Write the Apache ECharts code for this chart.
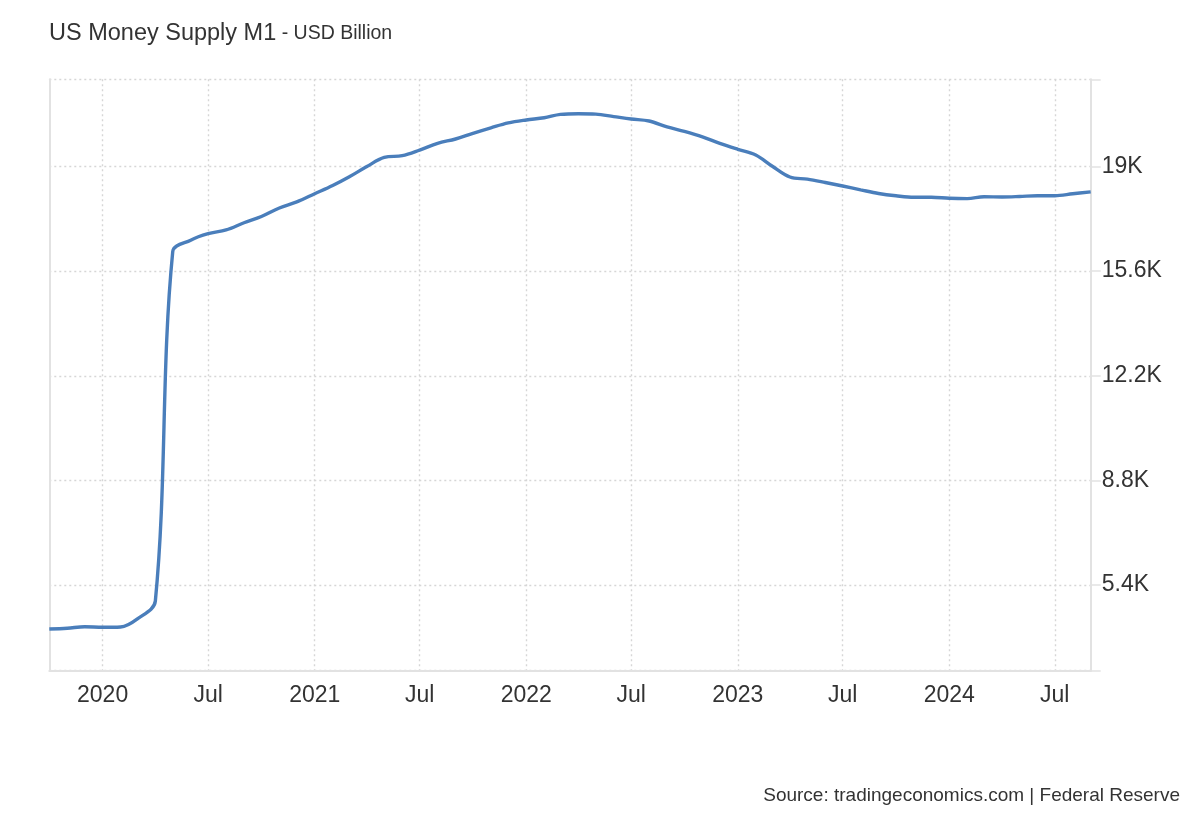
<!DOCTYPE html>
<html>
<head>
<meta charset="utf-8">
<script src="https://cdn.jsdelivr.net/npm/echarts@6/dist/echarts.min.js"></script>
<style>
html,body{margin:0;padding:0;background:#fff;}
#chart{width:1200px;height:820px;}
</style>
</head>
<body>
<div id="chart"></div>
<script>
// Monthly dates (first of month) and M1 values in USD Billion
const months = [
  '2019-10','2019-11','2019-12',
  '2020-01','2020-02','2020-03','2020-04','2020-05','2020-06','2020-07','2020-08','2020-09','2020-10','2020-11','2020-12',
  '2021-01','2021-02','2021-03','2021-04','2021-05','2021-06','2021-07','2021-08','2021-09','2021-10','2021-11','2021-12',
  '2022-01','2022-02','2022-03','2022-04','2022-05','2022-06','2022-07','2022-08','2022-09','2022-10','2022-11','2022-12',
  '2023-01','2023-02','2023-03','2023-04','2023-05','2023-06','2023-07','2023-08','2023-09','2023-10','2023-11','2023-12',
  '2024-01','2024-02','2024-03','2024-04','2024-05','2024-06','2024-07','2024-08','2024-09'
];
const m1Values = [
  3970, 3993, 4045,
  4025, 4035, 4298, 4880, 16232, 16606, 16817, 16938, 17172, 17376, 17653, 17851,
  18117, 18384, 18660, 19001, 19294, 19352, 19534, 19755, 19895, 20080, 20259, 20418,
  20513, 20584, 20695, 20717, 20704, 20623, 20545, 20480, 20288, 20142, 19966, 19755,
  19560, 19375, 19018, 18660, 18589, 18481, 18368, 18244, 18124, 18049, 18000, 18000,
  17968, 17958, 18017, 18010, 18026, 18052, 18052, 18114, 18176
];
const xTickDates = ['2020-01','2020-07','2021-01','2021-07','2022-01','2022-07','2023-01','2023-07','2024-01','2024-07'];
const yTickValues = [5400, 8800, 12200, 15600, 19000];
const yMin = 2615;
const yMax = 21835;

function ts(ym){ const p = ym.split('-'); return Date.UTC(+p[0], +p[1]-1, 1); }

const seriesData = months.map((m,i)=>[ts(m), m1Values[i]]);
const xTicks = xTickDates.map(ts);

const chart = echarts.init(document.getElementById('chart'), null, {renderer:'canvas'});
const font = '"Liberation Sans", Arial, sans-serif';
chart.setOption({
  animation:false,
  backgroundColor:'#fff',
  textStyle:{fontFamily:font},
  title:[
    {
      left:49, top:18, padding:0,
      text:'{a|US Money Supply M1}{b| - USD Billion}',
      textStyle:{
        fontWeight:'normal',
        rich:{
          a:{fontSize:23.5, color:'#333', fontFamily:font, fontWeight:'normal', lineHeight:32},
          b:{fontSize:19.5, color:'#333', fontFamily:font, fontWeight:'normal', lineHeight:32}
        }
      }
    },
    {
      right:20, top:784, padding:0,
      text:'Source: tradingeconomics.com | Federal Reserve',
      textStyle:{fontSize:19, fontWeight:'normal', color:'#333', fontFamily:font, lineHeight:24}
    }
  ],
  grid:{left:49.3, right:109.3, top:79.3, bottom:149.3, containLabel:false},
  xAxis:{
    type:'value',
    min:ts(months[0]),
    max:ts(months[months.length-1]),
    axisLine:{show:true, lineStyle:{color:'#e2e2e2', width:2}},
    axisTick:{show:false, customValues:xTicks},
    axisLabel:{
      customValues:xTicks,
      fontSize:23, color:'#333', margin:13, fontFamily:font,
      formatter:function(v){ const d=new Date(v); return d.getUTCMonth()===0 ? String(d.getUTCFullYear()) : 'Jul'; }
    },
    splitLine:{show:true, lineStyle:{color:'#d6d6d6', type:[2,3], width:1.4}}
  },
  yAxis:[
    {
      type:'value', position:'right',
      min:yMin, max:yMax,
      axisLine:{show:true, lineStyle:{color:'#e2e2e2', width:2}},
      axisTick:{show:true, length:10, customValues:[yMin].concat(yTickValues, [yMax]), lineStyle:{color:'#e2e2e2', width:1.5}},
      axisLabel:{
        customValues:yTickValues,
        fontSize:23, color:'#333', margin:11, fontFamily:font,
        formatter:function(v){ return (Math.round(v/100)/10) + 'K'; }
      },
      splitLine:{show:true, lineStyle:{color:'#d6d6d6', type:[2,3], width:1.4}}
    },
    {
      type:'value', position:'left',
      min:yMin, max:yMax,
      axisLine:{show:true, lineStyle:{color:'#e2e2e2', width:2}},
      axisTick:{show:false}, axisLabel:{show:false}, splitLine:{show:false}
    }
  ],
  series:[{
    type:'line',
    data:seriesData,
    yAxisIndex:0,
    showSymbol:false,
    smooth:0.35,
    lineStyle:{color:'#4a7ebb', width:3.4},
    itemStyle:{color:'#4a7ebb'}
  }]
});
</script>
</body>
</html>
